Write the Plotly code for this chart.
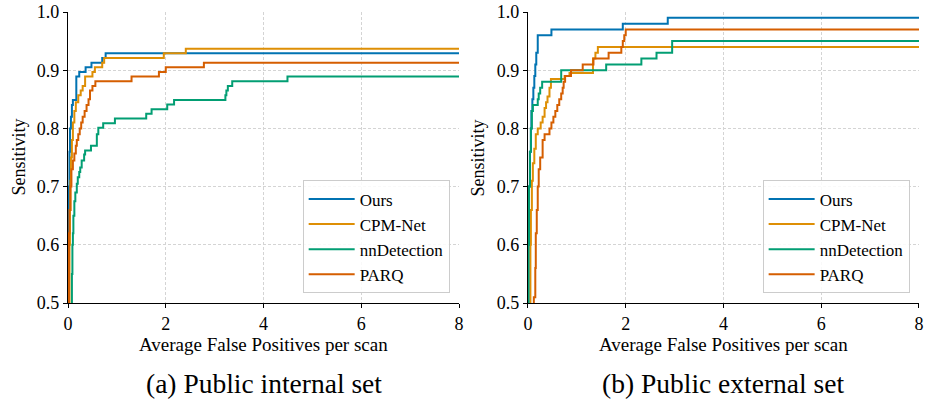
import plotly.graph_objects as go

# ---------------- data ----------------
series_names = ["Ours", "CPM-Net", "nnDetection", "PARQ"]
series_colors = ["#0173B2", "#DE8F05", "#029E73", "#D55E00"]

# (a) Public internal set
ours_int_x = [0.0, 0.01, 0.02, 0.03, 0.04, 0.06, 0.08, 0.10, 0.17, 0.23, 0.36, 0.48, 0.70, 0.77, 8.0]
ours_int_y = [0.45, 0.60, 0.70, 0.76, 0.80, 0.82, 0.84, 0.849, 0.889, 0.897, 0.905, 0.913, 0.921, 0.929, 0.929]

cpm_int_x = [0.02, 0.03, 0.04, 0.05, 0.06, 0.08, 0.10, 0.13, 0.16, 0.21, 0.26, 0.30, 0.35, 0.50, 0.55, 0.70, 0.74, 1.96, 2.41, 8.0]
cpm_int_y = [0.45, 0.60, 0.66, 0.71, 0.75, 0.78, 0.81, 0.83, 0.845, 0.857, 0.865, 0.873, 0.889, 0.897, 0.905, 0.913, 0.921, 0.929, 0.937, 0.937]

nn_int_x = [0.07, 0.08, 0.09, 0.10, 0.11, 0.13, 0.15, 0.18, 0.20, 0.23, 0.25, 0.28, 0.33, 0.35, 0.47, 0.59, 0.62, 0.72, 0.96,
            1.60, 1.71, 2.03, 2.17, 3.22, 3.24, 3.27, 3.36, 4.49, 8.0]
nn_int_y = [0.45, 0.55, 0.60, 0.62, 0.65, 0.675, 0.69, 0.705, 0.716, 0.725, 0.733, 0.745, 0.755, 0.762, 0.770, 0.790, 0.801, 0.809, 0.817,
            0.825, 0.833, 0.841, 0.849, 0.857, 0.865, 0.873, 0.881, 0.889, 0.889]

parq_int_x = [0.01, 0.02, 0.03, 0.05, 0.07, 0.10, 0.13, 0.16, 0.18, 0.21, 0.24, 0.27, 0.30, 0.34, 0.38, 0.42, 0.45, 0.50, 0.56,
              1.30, 1.86, 2.00, 2.78, 8.0]
parq_int_y = [0.45, 0.62, 0.66, 0.70, 0.73, 0.745, 0.757, 0.77, 0.78, 0.79, 0.80, 0.81, 0.82, 0.83, 0.84, 0.85, 0.865, 0.873, 0.881,
              0.889, 0.897, 0.905, 0.913, 0.913]

# (b) Public external set
ours_ext_x = [0.0, 0.01, 0.02, 0.04, 0.06, 0.07, 0.09, 0.11, 0.13, 0.15, 0.17, 0.20, 0.48, 1.94, 2.86, 8.0]
ours_ext_y = [0.45, 0.60, 0.70, 0.76, 0.80, 0.83, 0.85, 0.87, 0.89, 0.91, 0.93, 0.96, 0.97, 0.98, 0.99, 0.99]

cpm_ext_x = [0.04, 0.05, 0.06, 0.08, 0.10, 0.13, 0.16, 0.20, 0.26, 0.30, 0.34, 0.37, 0.40, 0.44, 0.47, 0.75, 0.85, 1.33, 1.38, 1.43, 8.0]
cpm_ext_y = [0.45, 0.60, 0.66, 0.71, 0.74, 0.765, 0.79, 0.80, 0.81, 0.82, 0.835, 0.845, 0.855, 0.87, 0.885, 0.89, 0.895, 0.92, 0.93, 0.94, 0.94]

nn_ext_x = [0.0, 0.01, 0.02, 0.04, 0.06, 0.08, 0.10, 0.20, 0.22, 0.25, 0.29, 0.68, 1.60, 2.32, 2.63, 2.95, 8.0]
nn_ext_y = [0.45, 0.60, 0.70, 0.76, 0.80, 0.83, 0.84, 0.85, 0.86, 0.87, 0.88, 0.90, 0.91, 0.92, 0.93, 0.95, 0.95]

parq_ext_x = [0.11, 0.12, 0.15, 0.16, 0.18, 0.20, 0.22, 0.25, 0.30, 0.34, 0.44, 0.48, 0.52, 0.56, 0.60, 0.64, 0.68, 0.71, 0.73,
              0.76, 0.88, 1.12, 1.34, 1.65, 1.91, 1.94, 1.97, 2.00, 8.0]
parq_ext_y = [0.45, 0.51, 0.56, 0.62, 0.66, 0.70, 0.73, 0.75, 0.78, 0.79, 0.80, 0.81, 0.82, 0.83, 0.84, 0.85, 0.86, 0.87, 0.88,
              0.89, 0.90, 0.91, 0.92, 0.93, 0.94, 0.95, 0.96, 0.97, 0.97]

x_ticks = [0, 2, 4, 6, 8]
y_ticks = [0.5, 0.6, 0.7, 0.8, 0.9, 1.0]
x_title = "Average False Positives per scan"
y_title = "Sensitivity"
captions = ["(a) Public internal set", "(b) Public external set"]

internal = [(ours_int_x, ours_int_y), (cpm_int_x, cpm_int_y), (nn_int_x, nn_int_y), (parq_int_x, parq_int_y)]
external = [(ours_ext_x, ours_ext_y), (cpm_ext_x, cpm_ext_y), (nn_ext_x, nn_ext_y), (parq_ext_x, parq_ext_y)]

FONT = "Liberation Serif, Times New Roman, DejaVu Serif, serif"

fig = go.Figure()
for panel, (data, xa, ya, lg) in enumerate([(internal, "x", "y", "legend"), (external, "x2", "y2", "legend2")]):
    for name, color, (xs, ys) in zip(series_names, series_colors, data):
        fig.add_trace(go.Scatter(
            x=xs, y=ys, mode="lines", name=name,
            line=dict(color=color, width=2, shape="hv"),
            xaxis=xa, yaxis=ya, legend=lg,
        ))

axis_common = dict(
    showline=True, linecolor="black", linewidth=1.2,
    ticks="outside", ticklen=4, tickcolor="black", tickwidth=1,
    showgrid=True, gridcolor="#d4d4d4", griddash="3px,2px", gridwidth=0.8,
    zeroline=False, tickfont=dict(family=FONT, size=18, color="black"),
    automargin=False, ticklabeloverflow="allow",
)
xdom1 = [0.0, 0.4595]
xdom2 = [0.5405, 1.0]
fig.update_layout(
    width=925, height=401,
    paper_bgcolor="white", plot_bgcolor="white",
    font=dict(family=FONT, color="black"),
    margin=dict(l=68, r=6, t=12, b=98, autoexpand=False),
    xaxis=dict(domain=xdom1, range=[0, 8], tickvals=x_ticks, anchor="y", **axis_common),
    yaxis=dict(domain=[0, 1], range=[0.5, 1.0], tickvals=y_ticks, tickformat=".1f", anchor="x", **axis_common),
    xaxis2=dict(domain=xdom2, range=[0, 8], tickvals=x_ticks, anchor="y2", **axis_common),
    yaxis2=dict(domain=[0, 1], range=[0.5, 1.0], tickvals=y_ticks, tickformat=".1f", anchor="x2", **axis_common),
    showlegend=True,
)
legend_common = dict(
    xanchor="right", yanchor="bottom", y=0.033,
    bgcolor="rgba(255,255,255,0.85)", bordercolor="#cccccc", borderwidth=1,
    font=dict(family=FONT, size=17, color="black"),
    tracegroupgap=0, itemwidth=46,
)
fig.update_layout(
    legend=dict(x=0.4485, **legend_common),
    legend2=dict(x=0.989, **legend_common),
)

annotations = []
for xr, yr, cap in [("x domain", "y domain", captions[0]), ("x2 domain", "y2 domain", captions[1])]:
    annotations.append(dict(text=x_title, xref=xr, yref=yr, x=0.5, y=0, yanchor="middle", yshift=-41,
                            showarrow=False, font=dict(family=FONT, size=19, color="black")))
    annotations.append(dict(text=y_title, xref=xr, yref=yr, x=0, y=0.5, xanchor="center", xshift=-50,
                            textangle=-90, showarrow=False, font=dict(family=FONT, size=18, color="black")))
    annotations.append(dict(text=cap, xref=xr, yref=yr, x=0.5, y=0, yanchor="middle", yshift=-80,
                            showarrow=False, font=dict(family=FONT, size=27.5, color="black")))
fig.update_layout(annotations=annotations)

fig.write_html("out.html", config={"displayModeBar": False},
               post_script="document.body.style.margin='0px';")
